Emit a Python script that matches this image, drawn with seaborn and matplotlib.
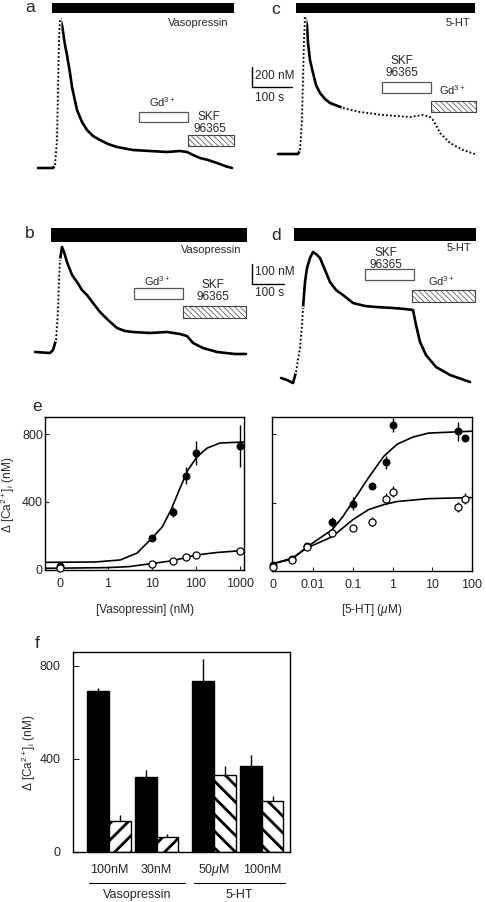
import matplotlib
matplotlib.use('Agg')
import matplotlib.pyplot as plt
import seaborn as sns
from matplotlib.patches import Rectangle

# ---------------- data ----------------
# panel a: vasopressin trace (time s, [Ca2+]i nM)
a_t = [20, 57.5, 62.5, 67.5, 70, 72.5, 75, 80, 87.5, 92.5, 100, 105, 117.5, 130, 142.5,
       157.5, 175, 195, 217.5, 257.5, 300, 342.5, 375, 392.5, 407.5, 425, 445, 467.5, 487.5, 505]
a_ca = [100, 100, 130, 380, 880, 1380, 1600, 1530, 1330, 1230, 1050, 910, 680, 560, 480,
        420, 380, 340, 310, 280, 270, 260, 270, 260, 230, 200, 180, 150, 120, 100]
# panel b: vasopressin trace
b_t = [15.6, 62.5, 71.9, 81.3, 87.5, 90.6, 93.8, 100, 106.3, 115.6, 131.3, 146.9, 162.5, 178.1,
       196.9, 218.8, 243.8, 271.9, 296.9, 321.9, 375, 428.1, 468.8, 490.6, 509.4, 540.6, 584.4, 640.6, 675]
b_ca = [100, 95, 110, 160, 310, 460, 560, 625, 600, 550, 485, 450, 410, 385,
        345, 300, 260, 220, 205, 200, 195, 200, 190, 180, 145, 120, 100, 90, 90]
# panel c: 5-HT trace
c_t = [20, 70, 75, 80, 82.5, 85, 87.5, 92.5, 95, 100, 107.5, 115, 125, 137.5, 150, 182.5,
       225, 282.5, 350, 382.5, 400, 407.5, 417.5, 425, 450, 482.5, 512.5]
c_ca = [100, 100, 140, 440, 840, 1240, 1470, 1390, 1210, 1040, 910, 790, 710, 650, 610, 560,
        520, 490, 470, 490, 470, 440, 370, 310, 210, 140, 100]
# panel d: 5-HT trace
d_t = [34.4, 53.1, 71.9, 81.3, 87.5, 93.8, 100, 103.1, 109.4, 115.6, 125, 134.4, 143.8, 156.3,
       171.9, 187.5, 206.3, 228.1, 259.4, 296.9, 330, 383.8, 421.9, 446.9, 456.3, 468.8, 487.5,
       518.8, 562.5, 625]
d_ca = [100, 90, 75, 130, 190, 250, 365, 450, 580, 650, 700, 730, 720, 700,
        640, 580, 540, 515, 475, 460, 455, 450, 445, 440, 365, 280, 215,
        155, 115, 80]

# panel e (left): vasopressin concentration-response (nM); 0 plotted at 0.08
vp_conc = [0.08, 10, 30, 60, 100, 1000]
vp_ctrl = [25, 188, 341, 553, 688, 729]
vp_ctrl_err = [10, 15, 30, 50, 68, 123]
vp_gd = [10, 35, 53, 76, 88, 112]
vp_gd_err = [0, 0, 0, 0, 0, 0]
vp_fit_x = [0.037, 0.5, 1.9, 4.6, 10, 17, 27, 43, 66, 105, 178, 350, 1230]
vp_fit_ctrl = [45, 47, 59, 100, 188, 253, 353, 480, 590, 665, 717, 747, 753]
vp_fit_gd_x = [0.037, 1, 3, 10, 30, 100, 300, 1230]
vp_fit_gd = [10, 14, 20, 38, 55, 88, 103, 115]

# panel e (right): 5-HT concentration-response (uM); 0 plotted at 0.001
ht_conc = [0.001, 0.003, 0.007, 0.03, 0.1, 0.3, 0.67, 1, 45, 67]
ht_ctrl = [35, 70, 147, 288, 394, 494, 635, 853, 817, 776]
ht_ctrl_err = [20, 10, 10, 30, 40, 0, 40, 40, 55, 0]
ht_gd = [24, 65, 141, 223, 253, 288, 423, 464, 376, 423]
ht_gd_err = [10, 0, 10, 0, 0, 25, 30, 30, 30, 30]
ht_fit_x = [0.00092, 0.003, 0.007, 0.03, 0.056, 0.1, 0.25, 0.6, 1.3, 3.2, 8, 100]
ht_fit_ctrl = [41, 70, 141, 241, 318, 406, 547, 670, 741, 782, 806, 817]
ht_fit_gd_x = [0.00092, 0.003, 0.007, 0.03, 0.1, 0.25, 0.6, 1.3, 8, 100]
ht_fit_gd = [41, 76, 135, 200, 300, 359, 388, 406, 423, 429]

# panel f: bars
f_labels = ['100nM', '30nM', r'50$\mu$M', '100nM']
f_groups = ['Vasopressin', '5-HT']
f_ctrl = [691, 323, 734, 369]
f_ctrl_err = [14, 31, 97, 50]
f_gd = [134, 66, 333, 219]
f_gd_err = [24, 11, 36, 21]

# ---------------- style ----------------
sns.set_style('ticks')
plt.rcParams['font.family'] = ['Liberation Sans', 'DejaVu Sans']
plt.rcParams['mathtext.fontset'] = 'custom'
plt.rcParams['mathtext.rm'] = 'Liberation Sans'
plt.rcParams['mathtext.it'] = 'Liberation Sans:italic'
plt.rcParams['mathtext.bf'] = 'Liberation Sans:bold'
plt.rcParams['hatch.linewidth'] = 2.0

W, H = 486, 902
fig = plt.figure(figsize=(W / 100, H / 100), dpi=100)


def px_axes(l, t, r, b):
    return fig.add_axes([l / W, 1 - b / H, (r - l) / W, (b - t) / H])


def ftext(x, y, s, **kw):
    kw.setdefault('va', 'center')
    fig.text(x / W, 1 - y / H, s, **kw)


def box(ax, x0, x1, y0, y1, kind):
    if kind == 'solid':
        p = Rectangle((x0, y0), x1 - x0, y1 - y0, fc='k', ec='k', lw=0)
    elif kind == 'open':
        p = Rectangle((x0, y0), x1 - x0, y1 - y0, fc='white', ec='#555555', lw=0.9)
    else:
        p = Rectangle((x0, y0), x1 - x0, y1 - y0, fc='white', ec='#444444', lw=0.8,
                      hatch='\\\\\\\\\\\\')
        if hasattr(p, 'set_hatch_linewidth'):
            p.set_hatch_linewidth(0.5)
    p.set_clip_on(False)
    ax.add_patch(p)


def trace(ax, t, ca, dotted=()):
    sns.lineplot(x=t, y=ca, ax=ax, color='k', lw=1.9, estimator=None, sort=False)
    for i0, i1 in dotted:
        ax.plot(t[i0:i1], ca[i0:i1], color='white', lw=2.5, zorder=3)
        ax.plot(t[i0:i1], ca[i0:i1], color='k', lw=1.3, ls=(0, (1, 1.2)), zorder=4)


def clean(ax):
    ax.set_axis_off()


# ---------------- panel a ----------------
ax = px_axes(30, 0, 240, 178)
trace(ax, a_t, a_ca, dotted=[(2, 7)])
ax.set_xlim(0, 525)
ax.set_ylim(0, 1780)
box(ax, 55, 510, 1650, 1750, 'solid')
box(ax, 272.5, 395, 560, 660, 'open')
box(ax, 395, 510, 320, 430, 'hatch')
ax.text(495, 1550, 'Vasopressin', ha='right', va='center', fontsize=8)
ax.text(330, 760, 'Gd$^{3+}$', ha='center', va='center', fontsize=8)
ax.text(447, 610, 'SKF', ha='center', va='center', fontsize=8.5)
ax.text(450, 490, '96365', ha='center', va='center', fontsize=8.5)
clean(ax)

# ---------------- panel b ----------------
ax = px_axes(30, 215, 250, 372)
trace(ax, b_t, b_ca, dotted=[(3, 7)])
ax.set_xlim(0, 687.5)
ax.set_ylim(0, 785)
box(ax, 65.6, 678, 650, 720, 'solid')
box(ax, 325, 478, 365, 420, 'open')
box(ax, 478, 675, 270, 330, 'hatch')
ax.text(662, 610, 'Vasopressin', ha='right', va='center', fontsize=8)
ax.text(397, 455, 'Gd$^{3+}$', ha='center', va='center', fontsize=8)
ax.text(572, 435, 'SKF', ha='center', va='center', fontsize=8.5)
ax.text(572, 375, '96365', ha='center', va='center', fontsize=8.5)
clean(ax)

# ---------------- panel c ----------------
ax = px_axes(270, 0, 480, 164)
trace(ax, c_t, c_ca, dotted=[(2, 7), (15, 27)])
ax.set_xlim(0, 525)
ax.set_ylim(0, 1640)
box(ax, 65, 512.5, 1510, 1610, 'solid')
box(ax, 280, 402.5, 710, 820, 'open')
box(ax, 402.5, 515, 520, 630, 'hatch')
ax.text(500, 1410, '5-HT', ha='right', va='center', fontsize=8)
ax.text(330, 1030, 'SKF', ha='center', va='center', fontsize=8.5)
ax.text(330, 910, '96365', ha='center', va='center', fontsize=8.5)
ax.text(455, 740, 'Gd$^{3+}$', ha='center', va='center', fontsize=8)
ax.plot([-45, -45], [770, 970], color='k', lw=1, clip_on=False)
ax.plot([-45, 55], [770, 770], color='k', lw=1, clip_on=False)
ax.text(-38, 880, '200 nM', ha='left', va='center', fontsize=8.5)
ax.text(-38, 660, '100 s', ha='left', va='center', fontsize=8.5)
clean(ax)

# ---------------- panel d ----------------
ax = px_axes(270, 215, 480, 398)
trace(ax, d_t, d_ca, dotted=[(3, 8)])
ax.set_xlim(0, 656.25)
ax.set_ylim(0, 915)
box(ax, 75, 643.75, 785, 850, 'solid')
box(ax, 296.9, 450, 590, 645, 'open')
box(ax, 443.8, 640.6, 480, 540, 'hatch')
ax.text(630, 750, '5-HT', ha='right', va='center', fontsize=8)
ax.text(362.5, 725, 'SKF', ha='center', va='center', fontsize=8.5)
ax.text(362.5, 665, '96365', ha='center', va='center', fontsize=8.5)
ax.text(534, 585, 'Gd$^{3+}$', ha='center', va='center', fontsize=8)
ax.plot([-56.25, -56.25], [570, 670], color='k', lw=1, clip_on=False)
ax.plot([-56.25, 43.75], [570, 570], color='k', lw=1, clip_on=False)
ax.text(-47, 630, '100 nM', ha='left', va='center', fontsize=8.5)
ax.text(-47, 525, '100 s', ha='left', va='center', fontsize=8.5)
clean(ax)

# ---------------- panel e ----------------
def dose_panel(ax, conc, ctrl, ctrl_err, gd, gd_err, fx, fctrl, fgx, fgd):
    sns.lineplot(x=fx, y=fctrl, ax=ax, color='k', lw=1.2, estimator=None, sort=False)
    sns.lineplot(x=fgx, y=fgd, ax=ax, color='k', lw=1.2, estimator=None, sort=False)
    ax.errorbar(conc, ctrl, yerr=ctrl_err, fmt='none', ecolor='k', elinewidth=1, capsize=0, zorder=3)
    ax.errorbar(conc, gd, yerr=gd_err, fmt='none', ecolor='k', elinewidth=1, capsize=0, zorder=3)
    sns.scatterplot(x=conc, y=ctrl, ax=ax, color='k', edgecolor='k', s=24, linewidth=0.8,
                    zorder=4, clip_on=False)
    sns.scatterplot(x=conc, y=gd, ax=ax, color='white', edgecolor='k', s=26, linewidth=0.9,
                    zorder=4, clip_on=False)
    ax.set_xscale('log')
    ax.set_ylim(0, 900)
    ax.minorticks_off()
    ax.tick_params(direction='in', length=3, width=0.8, labelsize=9)
    ax.tick_params(axis='x', pad=6)
    ax.tick_params(axis='y', pad=1.5)
    for s in ax.spines.values():
        s.set_linewidth(1.0)
        s.set_color('k')
    ax.set_xlabel('')
    ax.set_ylabel('')


axL = px_axes(45, 417, 244, 570)
dose_panel(axL, vp_conc, vp_ctrl, vp_ctrl_err, vp_gd, vp_gd_err,
           vp_fit_x, vp_fit_ctrl, vp_fit_gd_x, vp_fit_gd)
axL.set_xlim(0.037, 1230)
axL.set_xticks([0.08, 1, 10, 100, 1000])
axL.set_xticklabels(['0', '1', '10', '100', '1000'])
axL.set_yticks([0, 400, 800])
axL.set_yticklabels(['0', '400', '800'])

axR = px_axes(272, 417, 472, 571)
dose_panel(axR, ht_conc, ht_ctrl, ht_ctrl_err, ht_gd, ht_gd_err,
           ht_fit_x, ht_fit_ctrl, ht_fit_gd_x, ht_fit_gd)
axR.set_xlim(0.00092, 100)
axR.set_xticks([0.001, 0.01, 0.1, 1, 10, 100])
axR.set_xticklabels(['0', '0.01', '0.1', '1', '10', '100'])
axR.set_yticks([0, 400, 800])
axR.set_yticklabels([])

ftext(8, 495, r'$\Delta$ [Ca$^{2+}$]$_{\rm i}$ (nM)', rotation=90, ha='center', fontsize=8.5)
ftext(145, 610, '[Vasopressin] (nM)', ha='center', fontsize=8.5)
ftext(372, 610, r'[5-HT] ($\mathit{\mu}$M)', ha='center', fontsize=8.5)

# ---------------- panel f ----------------
axF = px_axes(73, 652, 290, 852)
pos = [1.65, 3.85, 6.5, 8.7]
hatches = ['//', '//', '\\\\', '\\\\']
axF.bar([p - 0.5 for p in pos], f_ctrl, width=1, color='k', edgecolor='k', lw=1, zorder=2)
for p, v, h in zip(pos, f_gd, hatches):
    bp = axF.bar(p + 0.5, v, width=1, color='white', edgecolor='k', lw=1, hatch=h, zorder=2)
    for patch in bp:
        if hasattr(patch, 'set_hatch_linewidth'):
            patch.set_hatch_linewidth(2.0)
axF.errorbar([p - 0.5 for p in pos], f_ctrl, yerr=[[0] * 4, f_ctrl_err], fmt='none',
             ecolor='k', elinewidth=1, capsize=0, zorder=1)
axF.errorbar([p + 0.5 for p in pos], f_gd, yerr=[[0] * 4, f_gd_err], fmt='none',
             ecolor='k', elinewidth=1, capsize=0, zorder=1)
axF.set_xlim(0, 10)
axF.set_ylim(0, 860)
axF.set_xticks([])
axF.set_yticks([0, 400, 800])
axF.set_yticklabels(['0', '400', '800'])
axF.tick_params(axis='y', direction='in', length=4, width=0.8, labelsize=9, pad=9)
for s in axF.spines.values():
    s.set_linewidth(1.0)
    s.set_color('k')

tr = axF.get_xaxis_transform()
for p, lab in zip(pos, f_labels):
    axF.text(p, -0.09, lab, transform=tr, ha='center', va='center', fontsize=9)
axF.plot([0.74, 5.16], [-0.155, -0.155], transform=tr, color='k', lw=0.8, clip_on=False)
axF.plot([5.58, 9.77], [-0.155, -0.155], transform=tr, color='k', lw=0.8, clip_on=False)
axF.text(2.95, -0.215, f_groups[0], transform=tr, ha='center', va='center', fontsize=9)
axF.text(7.65, -0.215, f_groups[1], transform=tr, ha='center', va='center', fontsize=9)
ftext(29, 753, r'$\Delta$ [Ca$^{2+}$]$_{\rm i}$ (nM)', rotation=90, ha='center', fontsize=8.5)

# ---------------- panel letters ----------------
for lx, ly, lt in [(30, 7, 'a'), (30, 233, 'b'), (276, 10, 'c'), (276, 235, 'd'),
                   (37, 407, 'e'), (37, 643, 'f')]:
    ftext(lx, ly, lt, ha='center', fontsize=12.5)

fig.savefig('out.png', dpi=100)
